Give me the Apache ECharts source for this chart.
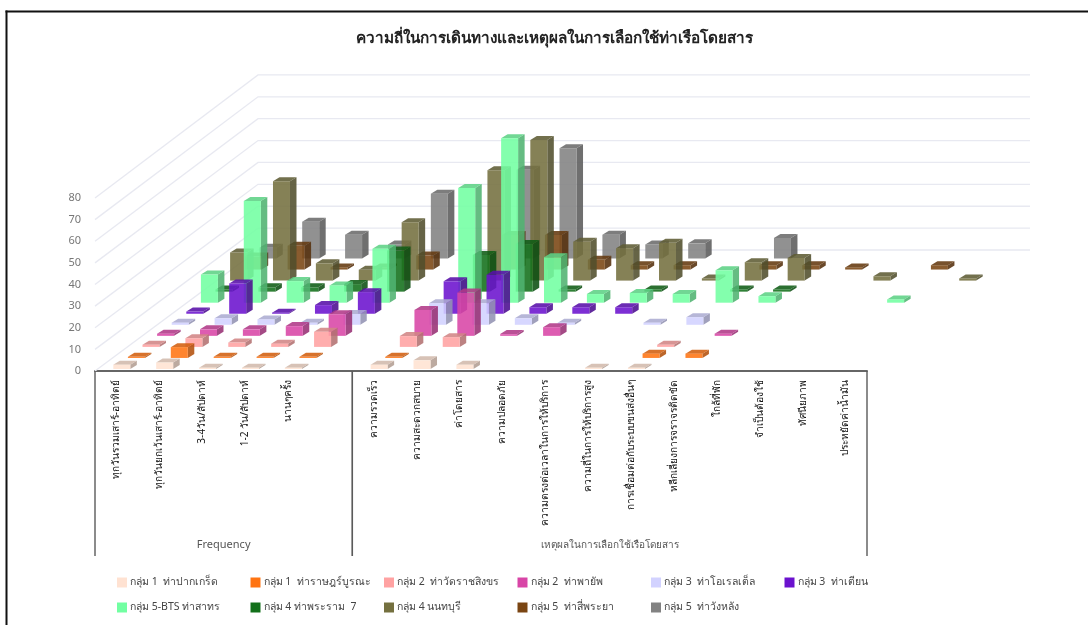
<!DOCTYPE html>
<html>
<head>
<meta charset="utf-8">
<style>html,body{margin:0;padding:0;background:#fff}#chart{width:1088px;height:625px}</style>
<script src="https://cdn.jsdelivr.net/npm/echarts@6/dist/echarts.min.js"></script>
</head>
<body>
<div id="chart"></div>
<script>
const categories = ['ทุกวันรวมเสาร์-อาทิตย์','ทุกวันยกเว้นเสาร์-อาทิตย์','3-4วัน/สัปดาห์','1-2 วัน/สัปดาห์','นานๆครั้ง','',
  'ความรวดเร็ว','ความสะดวกสบาย','ค่าโดยสาร','ความปลอดภัย','ความตรงต่อเวลาในการให้บริการ','ความถี่ในการให้บริการสูง',
  'การเชื่อมต่อกับระบบขนส่งอื่นๆ','หลีกเลี่ยงการจราจรติดขัด','ใกล้ที่พัก','จำเป็นต้องใช้','ทัศนียภาพ','ประหยัดค่าน้ำมัน'];
const yTicks = [0,10,20,30,40,50,60,70,80];
const groupNames = ['Frequency','เหตุผลในการเลือกใช้เรือโดยสาร'];
const groupSpans = [[0,6],[6,18]];

const pakKret     = [2,3,.6,.6,.6,null,2,4,2,null,null,.6,.6,null,null,null,null,null];
const ratBurana   = [.5,5,.5,.5,.5,null,.5,null,null,null,null,null,2,2,null,null,null,null];
const watRatcha   = [1,4,2,1.5,7,null,5,4.5,null,null,null,null,1,null,null,null,null,null];
const phayap      = [1,3,3,4.5,10,null,12,20,.8,4,null,null,null,1,null,null,null,null];
const oriental    = [1,3,2.5,1,5,null,10,10,3,1,null,1,3.5,null,null,null,null,null];
const thaTian     = [1,14,.5,4,10,null,15,18,3,3,3,null,null,null,null,null,null,null];
const sathorn     = [13,47,10,8,25,null,53,76,21,4,4.5,4,15,3,null,null,1.5,null];
const rama7       = [1,2,2,3.5,19,null,17,22,1,null,1,null,1,1,null,null,null,null];
const nonthaburi  = [13,46,8,5,27,null,51,65,18,15,17.5,1,8.5,10.5,null,2,null,1];
const siPhraya    = [6,11,1,1,6.5,null,16,16,4.5,2,2,null,2,2,1,null,2,null];
const wangLang    = [5,17,11,6.5,30,null,41,51,11,6.5,7,null,9.5,null,null,null,null,null];

const rowNames = ['กลุ่ม 1  ท่าปากเกร็ด','กลุ่ม 1  ท่าราษฎร์บูรณะ','กลุ่ม 2  ท่าวัดราชสิงขร','กลุ่ม 2  ท่าพายัพ',
  'กลุ่ม 3  ท่าโอเรลเต็ล','กลุ่ม 3  ท่าเตียน','กลุ่ม 5-BTS ท่าสาทร','กลุ่ม 4 ท่าพระราม  7','กลุ่ม 4 นนทบุรี',
  'กลุ่ม 5  ท่าสี่พระยา','กลุ่ม 5  ท่าวังหลัง'];
const rowColors = ['#FFE2D2','#FF7412','#FFA2A2','#D845A6','#D2D2FF','#6B12CE','#72FFA2','#12701A','#74703F','#7A4512','#828282'];
const rowValues = [pakKret,ratBurana,watRatcha,phayap,oriental,thaTian,sathorn,rama7,nonthaburi,siPhraya,wangLang];

const FONT = '"Noto Sans", Tahoma, sans-serif';
// oblique projection of the floor: how far each row and the whole floor shift
const ROW_DX = 14.6, ROW_DY = -11.05;
const FLOOR_DX = 163, FLOOR_DY = -121, BACK_SCALE = 1.012;
const BAR_W = 17, BAR_INSET = 18.3, BAR_DX = 6.5, BAR_DY = -4, BASE_LIFT = 2;
const GROUP_FONT_SIZES = [11, 10];

function shade(hex, f) {
  const n = parseInt(hex.slice(1), 16);
  const p = s => Math.round(((n >> s) & 255) * f);
  return `rgb(${p(16)},${p(8)},${p(0)})`;
}

function renderBar(row, color) {
  return function (params, api) {
    const c = api.value(0);
    const base = api.coord([c, 0]);
    const top = api.coord([c, api.value(1)]);
    const band = api.size([1, 0])[0];
    const x = base[0] - band / 2 + BAR_INSET + row * ROW_DX;
    const y0 = base[1] - BASE_LIFT + row * ROW_DY;
    const y1 = y0 - (base[1] - top[1]);
    const poly = (points, fill) => ({ type: 'polygon', shape: { points }, style: { fill, opacity: 0.88 } });
    return {
      type: 'group',
      children: [
        poly([[x + BAR_W, y0], [x + BAR_W + BAR_DX, y0 + BAR_DY], [x + BAR_W + BAR_DX, y1 + BAR_DY], [x + BAR_W, y1]], shade(color, 0.7)),
        poly([[x, y1], [x + BAR_W, y1], [x + BAR_W + BAR_DX, y1 + BAR_DY], [x + BAR_DX, y1 + BAR_DY]], shade(color, 0.82)),
        poly([[x, y0], [x + BAR_W, y0], [x + BAR_W, y1], [x, y1]], color)
      ]
    };
  };
}

function renderWall(params, api) {
  const v = api.value(0);
  const band = api.size([1, 0])[0];
  const left = api.coord([0, v]);
  const right = api.coord([categories.length - 1, v]);
  const zero = api.coord([0, 0])[1];
  const x0 = left[0] - band / 2;
  const x2 = right[0] + band / 2 + FLOOR_DX;
  const backY = zero + FLOOR_DY - (zero - left[1]) * BACK_SCALE;
  return {
    type: 'polyline',
    shape: { points: [[x0, left[1]], [x0 + FLOOR_DX, backY], [x2, backY]] },
    style: { stroke: '#e8e9f1', lineWidth: 1.3, fill: 'none' }
  };
}

function renderGroup(params, api) {
  const band = api.size([1, 0])[0];
  const zero = api.coord([0, 0]);
  const edge = i => zero[0] - band / 2 + i * band;
  const from = edge(api.value(0)), to = edge(api.value(1));
  const line = x => ({
    type: 'line', shape: { x1: x, y1: zero[1], x2: x, y2: zero[1] + 185 },
    style: { stroke: '#5a5a5a', lineWidth: 1.4 }
  });
  return {
    type: 'group',
    children: [line(from), line(to), {
      type: 'text',
      style: {
        x: (from + to) / 2, y: zero[1] + 174, text: groupNames[params.dataIndex],
        align: 'center', verticalAlign: 'middle', fill: '#555',
        font: GROUP_FONT_SIZES[params.dataIndex] + 'px ' + FONT
      }
    }]
  };
}

const legendCols = [0,1,2,3,4,5,0,1,2,3,4];
const legends = rowNames.map((name, i) => ({
  data: [name], orient: 'horizontal',
  left: 117 + legendCols[i] * 133.5, top: i < 6 ? 577 : 602,
  icon: 'rect', itemWidth: 10, itemHeight: 10, itemGap: 0,
  padding: 0, selectedMode: false,
  textStyle: { color: '#444', fontSize: 10.5, fontFamily: FONT, padding: [0, 0, 0, -2] }
}));

const chart = echarts.init(document.getElementById('chart'));
chart.setOption({
  animation: false,
  backgroundColor: '#fff',
  title: {
    text: 'ความถี่ในการเดินทางและเหตุผลในการเลือกใช้ท่าเรือโดยสาร',
    left: 549, top: 26, textAlign: 'center',
    textStyle: { fontSize: 15.3, fontWeight: 'bold', color: '#222', fontFamily: FONT }
  },
  legend: legends,
  grid: { left: 95, top: 198, width: 772, height: 173, containLabel: false },
  xAxis: {
    type: 'category', data: categories, boundaryGap: true, offset: 1,
    axisLine: { lineStyle: { color: '#666', width: 2 } },
    axisTick: { show: false },
    axisLabel: { interval: 0, rotate: 90, margin: 8, color: '#111', fontSize: 10.2, fontFamily: FONT }
  },
  yAxis: {
    type: 'value', min: 0, max: 80, interval: 10,
    axisLine: { show: false }, axisTick: { show: false }, splitLine: { show: false },
    axisLabel: { color: '#777', fontSize: 11, margin: 14, fontFamily: FONT, padding: [6, 0, 0, 0] }
  },
  // page frame along the left and top edges only
  graphic: [
    { type: 'rect', silent: true, shape: { x: 5.5, y: 10.5, width: 2, height: 614.5 }, style: { fill: '#111' } },
    { type: 'rect', silent: true, shape: { x: 5.5, y: 10.5, width: 1082.5, height: 2 }, style: { fill: '#111' } }
  ],
  series: [
    { type: 'custom', name: 'walls', z: 1, silent: true, renderItem: renderWall,
      data: yTicks.map(v => [v]), encode: { y: 0 } },
    { type: 'custom', name: 'groups', z: 1, silent: true, renderItem: renderGroup,
      data: groupSpans, encode: { x: [0, 1] } }
  ].concat(rowValues.map((vals, row) => ({
    type: 'custom',
    name: rowNames[row],
    z: 30 - row,
    itemStyle: { color: rowColors[row] },
    renderItem: renderBar(row, rowColors[row]),
    encode: { x: 0, y: 1 },
    data: vals.map((v, i) => [i, v]).filter(d => d[1] !== null)
  })))
});
</script>
</body>
</html>
